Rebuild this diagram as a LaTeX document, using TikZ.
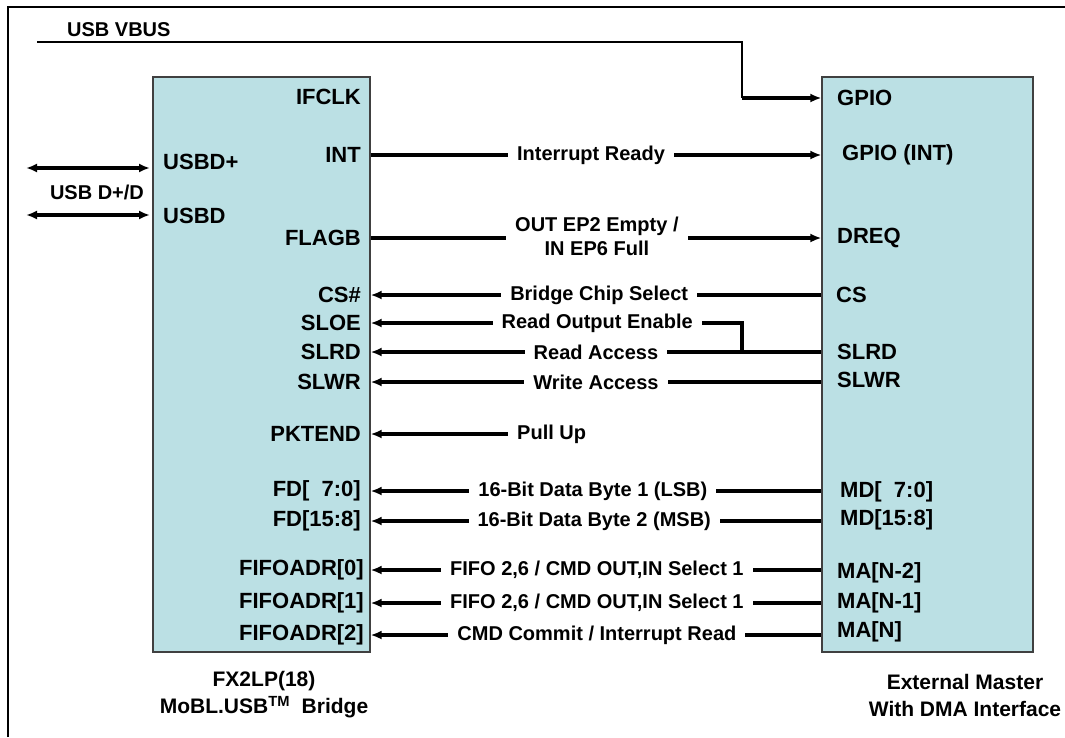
\documentclass[tikz,border=0pt]{standalone}
\usepackage{fontspec}
\setmainfont{Liberation Sans}
\usepackage{xcolor}
\usetikzlibrary{arrows.meta,calc,positioning}
\definecolor{chipfill}{RGB}{187,224,228}

\begin{document}
\begin{tikzpicture}[x=1pt,y=-1pt,
	chip/.style={draw=black!75,line width=1.2pt,fill=chipfill,inner sep=0pt},
	pin/.style={font=\fontsize{22}{24}\selectfont\bfseries,inner sep=0pt},
	mid/.style={font=\fontsize{20}{24}\selectfont\bfseries,fill=white,inner xsep=9pt,inner ysep=0pt,align=center},
	title/.style={font=\fontsize{21}{27}\selectfont\bfseries,align=center},
	sig/.style={line width=3.2pt},
	fwd/.style={-{Latex[length=11pt,width=9pt]}},
	bwd/.style={{Latex[length=11pt,width=9pt]}-},
	both/.style={{Latex[length=11pt,width=9pt]}-{Latex[length=11pt,width=9pt]}}]
	\useasboundingbox (0,0) rectangle (1065,737);
	\draw[line width=2pt] (8,737) -- (8,7) -- (1065,7);
	% the two chips
	\node[chip,minimum width=217,minimum height=575] (fx) at (261.5,364.5) {};
	\node[chip,minimum width=211,minimum height=575] (em) at (927.5,364.5) {};
	\node[title] (fxname) at (264,695) {FX2LP(18)\\MoBL.USB\textsuperscript{TM}\ \ Bridge};
	\node[title] (emname) at (965,695) {External Master\\With DMA Interface};
	% bridge pins
	\node[pin,anchor=east] (ifclk) at (361,97) {IFCLK};
	\node[pin,anchor=east] (int) at (361,155) {INT};
	\node[pin,anchor=west] (usbdp) at (163,162) {USBD+};
	\node[pin,anchor=west] (usbdm) at (163,216) {USBD};
	\node[pin,anchor=east] (flagb) at (361,238) {FLAGB};
	\node[pin,anchor=east] (csn) at (361,295) {CS\#};
	\node[pin,anchor=east] (sloe) at (361,323) {SLOE};
	\node[pin,anchor=east] (slrd) at (361,352) {SLRD};
	\node[pin,anchor=east] (slwr) at (361,382) {SLWR};
	\node[pin,anchor=east] (pktend) at (361,434) {PKTEND};
	\node[pin,anchor=east] (fdlo) at (361,491) {FD[\phantom{1}7:0]};
	\node[pin,anchor=east] (fdhi) at (361,521) {FD[15:8]};
	\node[pin,anchor=east] (fa0) at (364,570) {FIFOADR[0]};
	\node[pin,anchor=east] (fa1) at (364,603) {FIFOADR[1]};
	\node[pin,anchor=east] (fa2) at (364,635) {FIFOADR[2]};
	% master pins
	\node[pin,anchor=west] (gpio) at (837,98) {GPIO};
	\node[pin,anchor=west] (gpioint) at (842,155) {GPIO (INT)};
	\node[pin,anchor=west] (dreq) at (837,238) {DREQ};
	\node[pin,anchor=west] (cs) at (836,295) {CS};
	\node[pin,anchor=west] (mslrd) at (837,352) {SLRD};
	\node[pin,anchor=west] (mslwr) at (837,380) {SLWR};
	\node[pin,anchor=west] (mdlo) at (840,492) {MD[\phantom{1}7:0]};
	\node[pin,anchor=west] (mdhi) at (840,520) {MD[15:8]};
	\node[pin,anchor=west] (ma2) at (837,573) {MA[N-2]};
	\node[pin,anchor=west] (ma1) at (837,603) {MA[N-1]};
	\node[pin,anchor=west] (ma0) at (837,632) {MA[N]};
	% usb side
	\coordinate (vbus) at (37,42);
	\coordinate (vbend) at (742,42);
	\node[pin,font=\fontsize{20}{24}\selectfont\bfseries,anchor=west] (vbuslbl) at (67,30) {USB VBUS};
	\draw[line width=2.4pt] (vbus) -- (vbend) -- (vbend |- gpio);
	\draw[sig,fwd] (vbend |- gpio) -- (gpio -| em.west);
	\coordinate (dpa) at (26,168);
	\coordinate (dpb) at (150,168);
	\coordinate (dma) at (26,215);
	\coordinate (dmb) at (150,215);
	\draw[sig,both] (dpa) -- (dpb);
	\draw[sig,both] (dma) -- (dmb);
	\node[pin,font=\fontsize{20}{24}\selectfont\bfseries] (usbd) at (97,192) {USB D+/D};
	% signals
	\draw[sig,fwd] (int -| fx.east) -- node[mid,pos=0.489] {Interrupt Ready} (int -| em.west);
	\draw[sig,fwd] (flagb -| fx.east) -- node[mid,pos=0.502,yshift=2pt] {OUT EP2 Empty /\\IN EP6 Full} (flagb -| em.west);
	\draw[sig,bwd] (csn -| fx.east) -- node[mid,pos=0.507] {Bridge Chip Select} (csn -| em.west);
	\coordinate (oejoin) at (742,352);
	\draw[sig,bwd] (sloe -| fx.east) -- node[mid,pos=0.61] {Read Output Enable} (sloe -| oejoin) -- (oejoin);
	\draw[sig,bwd] (slrd -| fx.east) -- node[mid,pos=0.5] {Read Access} (slrd -| em.west);
	\draw[sig,bwd] (slwr -| fx.east) -- node[mid,pos=0.5] {Write Access} (slwr -| em.west);
	\node[mid,anchor=west,fill=none] (pullup) at (508,434) {Pull Up};
	\draw[sig,bwd] (pktend -| fx.east) -- (pullup.west);
	\draw[sig,bwd] (fdlo -| fx.east) -- node[mid,pos=0.493] {16-Bit Data Byte 1 (LSB)} (fdlo -| em.west);
	\draw[sig,bwd] (fdhi -| fx.east) -- node[mid,pos=0.496] {16-Bit Data Byte 2 (MSB)} (fdhi -| em.west);
	\draw[sig,bwd] (fa0 -| fx.east) -- node[mid,pos=0.502] {FIFO 2,6 / CMD OUT,IN Select 1} (fa0 -| em.west);
	\draw[sig,bwd] (fa1 -| fx.east) -- node[mid,pos=0.502] {FIFO 2,6 / CMD OUT,IN Select 1} (fa1 -| em.west);
	\draw[sig,bwd] (fa2 -| fx.east) -- node[mid,pos=0.502] {CMD Commit / Interrupt Read} (fa2 -| em.west);
\end{tikzpicture}
\end{document}
